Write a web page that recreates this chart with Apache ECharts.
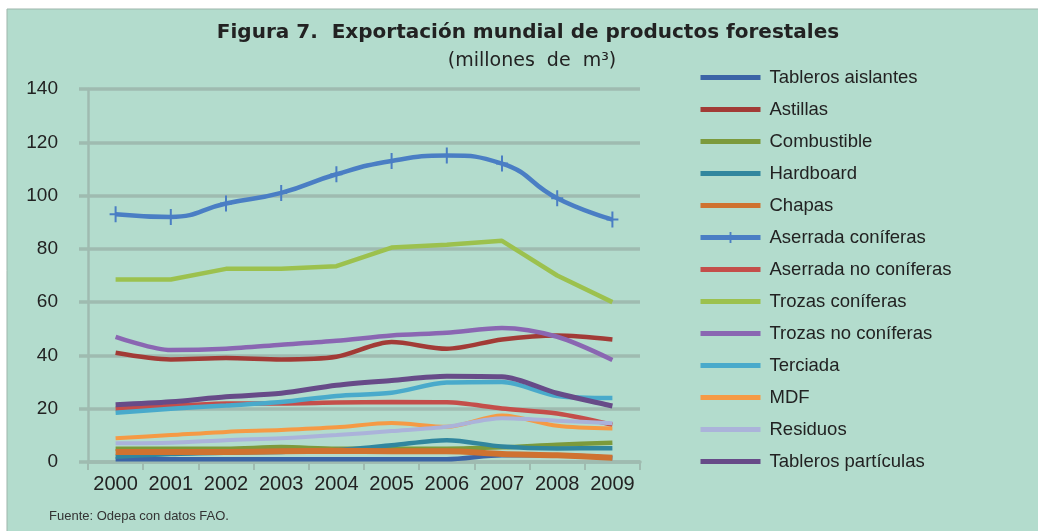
<!DOCTYPE html>
<html>
<head>
<meta charset="utf-8">
<script src="https://cdn.jsdelivr.net/npm/echarts@6/dist/echarts.min.js"></script>
<style>
  html, body { margin: 0; padding: 0; background: #fff; }
  #chart { width: 1038px; height: 531px; }
</style>
</head>
<body>
<div id="chart"></div>
<script>
// years on the x axis
const years = ['2000', '2001', '2002', '2003', '2004', '2005', '2006', '2007', '2008', '2009'];

// millones de m3
const tablerosAislantes = [1, 1, 1, 1, 1, 1, 1, 2.5, 2.5, 1.5];
const astillas = [41, 38.5, 39, 38.5, 39.5, 45, 42.5, 46, 47.5, 46];
const combustible = [5, 5, 5, 5.6, 5, 5, 5, 5.5, 6.5, 7.2];
const hardboard = [2, 3, 3.5, 3.8, 4.5, 6.3, 8.2, 5.8, 5.1, 5.2];
const chapas = [3.8, 3.8, 3.8, 4, 4.2, 4, 4, 3, 2.5, 1.6];
const aserradaConiferas = [93, 92, 97, 101, 108, 113, 115, 112, 99, 91];
const aserradaNoConiferas = [20, 21, 22, 22, 22.3, 22.5, 22.4, 20.1, 18.2, 14];
const trozasConiferas = [68.5, 68.5, 72.5, 72.5, 73.5, 80.5, 81.5, 83, 70, 60];
const trozasNoConiferas = [47, 42, 42.5, 44, 45.5, 47.5, 48.5, 50.3, 47, 38.3];
const terciada = [18.5, 20, 21.2, 22.5, 24.8, 26, 29.8, 30, 24.8, 24];
const mdf = [8.9, 10.1, 11.3, 12, 13, 14.6, 13.2, 17.5, 13.6, 12.6];
const residuos = [7, 7.2, 8.2, 8.9, 10.1, 11.6, 13.2, 16.4, 15.5, 14.5];
const tablerosParticulas = [21.5, 22.6, 24.5, 25.8, 28.8, 30.6, 32.2, 32, 25.8, 21];

const chart = echarts.init(document.getElementById('chart'));

const font = 'Liberation Sans, Arial, sans-serif';
const wideFont = 'DejaVu Sans, Liberation Sans, sans-serif';
const gridColor = '#9fbbb0';
const plus = 'path://M5,0 L7,0 L7,7 L12,7 L12,9 L7,9 L7,16 L5,16 L5,9 L0,9 L0,7 L5,7 Z';

function line(name, data, color, opts) {
    opts = opts || {};
    return {
        name: name,
        type: 'line',
        data: data,
        smooth: opts.smooth === undefined ? 0.3 : opts.smooth,
        symbol: opts.symbol || 'none',
        symbolSize: opts.symbolSize,
        showSymbol: !!opts.symbol,
        itemStyle: { color: color },
        lineStyle: { color: color, width: opts.width || 4.5 },
        emphasis: { disabled: true },
        silent: true
    };
}

const names = ['Tableros aislantes', 'Astillas', 'Combustible', 'Hardboard', 'Chapas',
    'Aserrada coníferas', 'Aserrada no coníferas', 'Trozas coníferas', 'Trozas no coníferas',
    'Terciada', 'MDF', 'Residuos', 'Tableros partículas'];

chart.setOption({
    backgroundColor: '#fff',
    animation: false,
    graphic: [
        {
            type: 'rect', z: -10, silent: true,
            shape: { x: 7, y: 9, width: 1040, height: 530 },
            style: { fill: '#b3dccd', stroke: '#9db5ab', lineWidth: 1 }
        },
        {
            type: 'text', left: 49, top: 510,
            style: { text: 'Fuente: Odepa con datos FAO.', font: '13px ' + font, fill: '#333' }
        }
    ],
    title: [
        {
            text: 'Figura 7.  Exportación mundial de productos forestales',
            left: 528, top: 23, textAlign: 'center', padding: 0,
            textStyle: { fontFamily: wideFont, fontSize: 20, fontWeight: 'bold', color: '#222' }
        },
        {
            text: '(millones  de  m³)',
            left: 532, top: 52, textAlign: 'center', padding: 0,
            textStyle: { fontFamily: wideFont, fontSize: 19, fontWeight: 'normal', color: '#222' }
        }
    ],
    legend: {
        orient: 'vertical',
        left: 698,
        top: 68,
        padding: 0,
        itemWidth: 60,
        itemHeight: 14,
        itemGap: 13,
        selectedMode: false,
        itemStyle: { opacity: 0 },
        lineStyle: { width: 5 },
        data: names.map(function (n) {
            return n === 'Aserrada coníferas' ? { name: n, itemStyle: { opacity: 1 } } : { name: n };
        }),
        textStyle: { fontFamily: font, fontSize: 18.5, color: '#222', lineHeight: 18, padding: [0, 0, 0, 4] }
    },
    grid: { left: 88, right: 398, top: 89, bottom: 69 },
    xAxis: {
        type: 'category',
        data: years,
        boundaryGap: true,
        axisLine: { lineStyle: { color: gridColor, width: 3.5 } },
        axisTick: { show: true, length: 8, lineStyle: { color: gridColor, width: 2 } },
        axisLabel: { fontFamily: font, fontSize: 20, color: '#222', margin: 12, interval: 0 }
    },
    yAxis: {
        type: 'value',
        min: 0, max: 140, interval: 20,
        axisLine: { show: true, lineStyle: { color: gridColor, width: 2.5 } },
        axisTick: { show: true, length: 9, lineStyle: { color: gridColor, width: 3.5 } },
        axisLabel: { fontFamily: font, fontSize: 19, color: '#222', margin: 30 },
        splitLine: { lineStyle: { color: gridColor, width: 3.5 } }
    },
    series: [
        line(names[0], tablerosAislantes, '#3b64a6'),
        line(names[1], astillas, '#a23b36'),
        line(names[2], combustible, '#7c9a3c'),
        line(names[3], hardboard, '#31869e'),
        line(names[4], chapas, '#cf7230', { width: 6 }),
        line(names[5], aserradaConiferas, '#4a7ec4', { smooth: 0.5, symbol: plus, symbolSize: [12, 16] }),
        line(names[6], aserradaNoConiferas, '#c44e4a'),
        line(names[7], trozasConiferas, '#9cc14e', { smooth: 0 }),
        line(names[8], trozasNoConiferas, '#8a66b2'),
        line(names[9], terciada, '#49aacb'),
        line(names[10], mdf, '#f59a45', { width: 4 }),
        line(names[11], residuos, '#abb3da', { width: 4 }),
        line(names[12], tablerosParticulas, '#674b88', { width: 5 })
    ]
});
</script>
</body>
</html>
